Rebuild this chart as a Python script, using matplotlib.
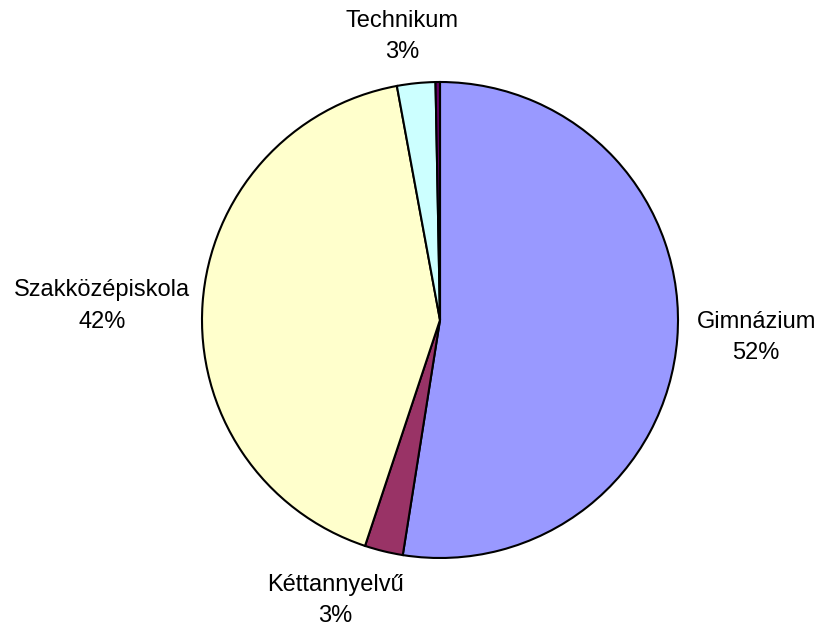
import matplotlib.pyplot as plt
import numpy as np

plt.rcParams['font.family'] = ['Liberation Sans', 'DejaVu Sans']

# data (clockwise from 12 o'clock)
categories = ['Gimnázium', 'Kéttannyelvű', 'Szakközépiskola', 'Technikum', '']
values = [52.5, 2.6, 42.0, 2.6, 0.3]
pct_labels = ['52%', '3%', '42%', '3%', '']
colors = ['#9999FF', '#993366', '#FFFFCC', '#CCFFFF', '#660066']

W, H = 821, 627
fig = plt.figure(figsize=(W / 100, H / 100), dpi=100)
ax = fig.add_axes([0, 0, 1, 1])

cx, cy, r = 440, H - 320, 238
ax.pie(values, colors=colors, startangle=90, counterclock=False,
       center=(cx, cy), radius=r, frame=True,
       wedgeprops=dict(edgecolor='black', linewidth=1.5))
ax.set_xlim(0, W)
ax.set_ylim(0, H)
ax.set_aspect('equal')
ax.axis('off')

# label offsets from pie center, in units of radius
label_pos = {
    'Gimnázium': (1.328, -0.074),
    'Kéttannyelvű': (-0.441, -1.179),
    'Szakközépiskola': (-1.42, 0.059),
    'Technikum': (-0.16, 1.191),
}
for cat, pct in zip(categories, pct_labels):
    if not cat:
        continue
    dx, dy = label_pos[cat]
    ax.text(cx + dx * r, cy + dy * r, f'{cat}\n{pct}', ha='center', va='center',
            fontsize=17, linespacing=1.55)

fig.savefig('out.png', dpi=100)
